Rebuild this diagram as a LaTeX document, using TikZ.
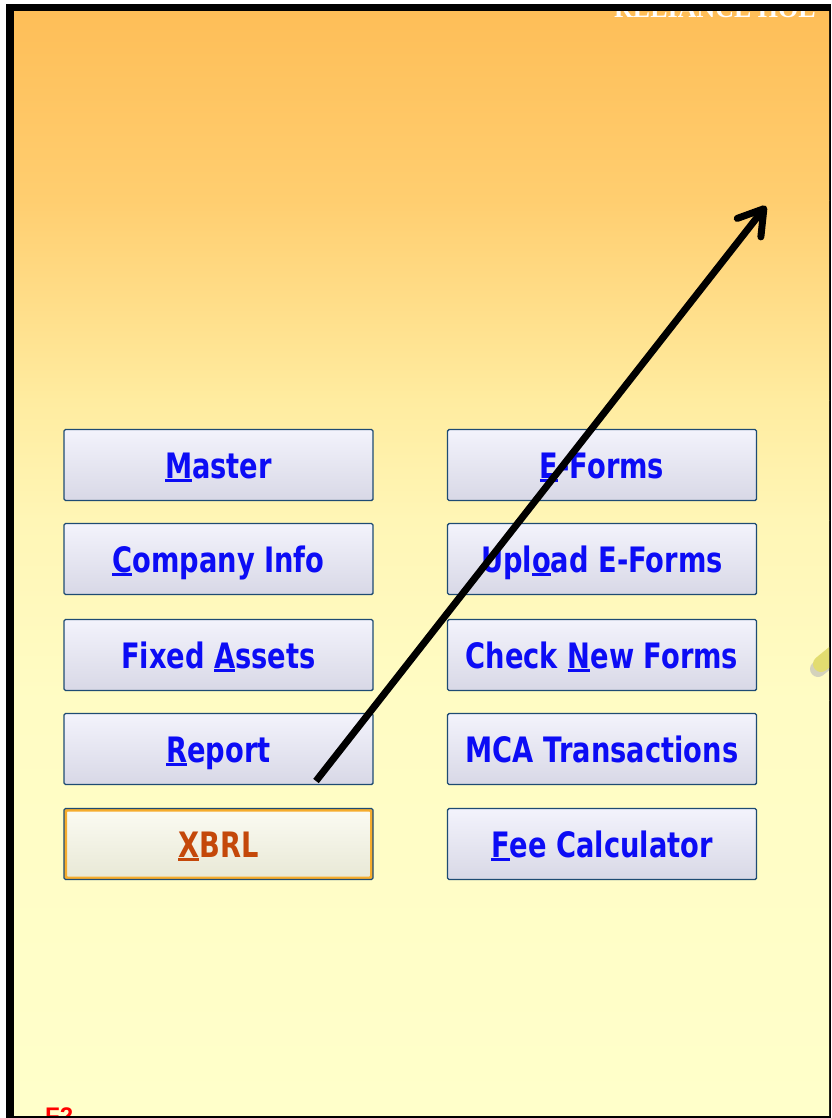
\documentclass[tikz,border=0pt]{standalone}
\usepackage{fontspec}
\usetikzlibrary{arrows.meta}
\newfontfamily\btnfont[FakeStretch=0.78]{DejaVu Sans}
\newfontfamily\headfont{Liberation Serif}
\newfontfamily\notefont{Liberation Sans}

\definecolor{bgA}{RGB}{254,190,88}
\definecolor{bgB}{RGB}{255,206,112}
\definecolor{bgC}{RGB}{255,236,160}
\definecolor{bgD}{RGB}{255,246,182}
\definecolor{bgE}{RGB}{255,252,196}
\definecolor{bgF}{RGB}{255,255,202}
\definecolor{btnedge}{RGB}{30,75,115}
\definecolor{btntop}{RGB}{243,243,252}
\definecolor{btnbot}{RGB}{216,216,230}
\definecolor{btntext}{RGB}{12,12,245}
\definecolor{xring}{RGB}{246,172,44}
\definecolor{xtop}{RGB}{251,251,242}
\definecolor{xbot}{RGB}{232,232,214}
\definecolor{xtext}{RGB}{196,72,10}
\definecolor{blobfill}{RGB}{226,220,112}

% access-key letter: underlined with a rule of fixed weight
\newcommand\ukey[1]{\setbox0=\hbox{#1}\rlap{\rule[-3.6pt]{\wd0}{2.4pt}}\box0}

\tikzset{
  btn/.style={draw=btnedge, line width=1.4pt, rounded corners=1.5pt,
    top color=btntop, bottom color=btnbot,
    minimum width=309pt, minimum height=71pt, inner sep=0pt,
    text=btntext, font=\btnfont\bfseries\fontsize{35}{40}\selectfont,
    text height=26pt, text depth=0pt},
  xbtn/.style={btn, draw=xring, line width=3pt, top color=xtop, bottom color=xbot,
    text=xtext, minimum width=306pt, minimum height=68pt},
  pointer/.style={line width=7pt, -{Straight Barb[length=24pt, width=30pt, round]}}
}

\begin{document}
\begin{tikzpicture}[x=1pt, y=-1pt]
  \useasboundingbox (0,0) rectangle (831,1118);
  \fill[white] (0,0) rectangle (831,1118);
  \fill[black] (6,4) rectangle (831,1118);

  \begin{scope}
    \clip (14,12) rectangle (829,1115);
    % background wash, orange at the top fading to pale yellow
    \shade[top color=bgA, bottom color=bgB] (14,12) rectangle (829,200.5);
    \shade[top color=bgB, bottom color=bgC] (14,200) rectangle (829,400.5);
    \shade[top color=bgC, bottom color=bgD] (14,400) rectangle (829,520.5);
    \shade[top color=bgD, bottom color=bgE] (14,520) rectangle (829,700.5);
    \shade[top color=bgE, bottom color=bgF] (14,700) rectangle (829,1115);

    % title lettering running under the top edge
    \node[anchor=base west, inner sep=0pt, text=white,
      font=\headfont\bfseries\fontsize{26}{30}\selectfont] (title) at (614,18) {RELIANCE HOL};

    % note lettering running under the bottom edge
    \node[anchor=north west, inner sep=0pt, text=red,
      font=\notefont\bfseries\fontsize{24}{28}\selectfont] (note) at (45,1108) {F2};

    % tab peeking in from the right edge
    \draw[black!28, line width=16pt, line cap=round, opacity=0.6]
      (818,669) -- (850,643);
    \draw[blobfill, line width=16pt, line cap=round]
      (821,664) -- (853,638);

    % left column
    \node[btn] (master)  at (218.5,465) {\ukey{M}aster};
    \node[btn] (company) at (218.5,559) {\ukey{C}ompany Info};
    \node[btn] (fixed)   at (218.5,655) {Fixed \ukey{A}ssets};
    \node[btn] (report)  at (218.5,749) {\ukey{R}eport};
    \node[xbtn] (xbrl)   at (218.5,844) {\ukey{X}BRL};
    \draw[btnedge, line width=1.2pt, rounded corners=1.5pt]
      (xbrl.north west) rectangle (xbrl.south east);

    % right column
    \node[btn] (eforms)  at (602,465) {\ukey{E}-Forms};
    \node[btn] (upload)  at (602,559) {Upl\ukey{o}ad E-Forms};
    \node[btn] (check)   at (602,655) {Check \ukey{N}ew Forms};
    \node[btn] (mca)     at (602,749) {MCA Transactions};
    \node[btn] (fee)     at (602,844) {\ukey{F}ee Calculator};

    % pointer
    \coordinate (tail) at (316,781);
    \coordinate (head) at (766,206);
    \draw[pointer] (tail) -- (head);
  \end{scope}
\end{tikzpicture}
\end{document}
